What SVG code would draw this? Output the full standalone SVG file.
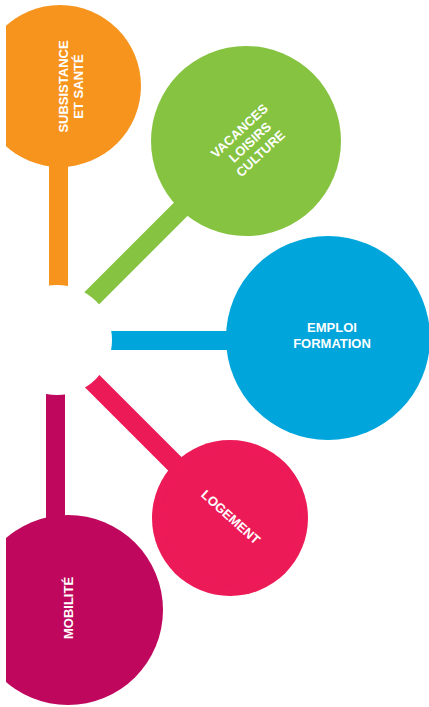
<svg xmlns="http://www.w3.org/2000/svg" width="429" height="707" viewBox="0 0 429 707">
<style>
.lbl{font-family:"Liberation Sans",Arial,sans-serif;font-weight:bold;font-size:13px;fill:#fff;text-anchor:middle}
.stem{fill:none;stroke-width:19;stroke-linecap:butt}
</style>
<defs>
<clipPath id="page"><rect x="6" y="0" width="423" height="707"/></clipPath>
<mask id="hub"><rect x="0" y="0" width="429" height="707" fill="#fff"/><circle cx="57" cy="340" r="55" fill="#000"/></mask>
</defs>
<rect width="429" height="707" fill="#fff"/>
<g clip-path="url(#page)">
<g id="connectors" mask="url(#hub)">
<line class="stem" stroke="#F7941E" x1="58.5" y1="150" x2="58.5" y2="340"/>
<line class="stem" stroke="#85C341" x1="57" y1="333" x2="247" y2="143"/>
<line class="stem" stroke="#00A5DB" x1="57" y1="340.5" x2="300" y2="340.5"/>
<line class="stem" stroke="#ED1A58" x1="57" y1="346" x2="230" y2="519"/>
<line class="stem" stroke="#BE075D" x1="55.5" y1="340" x2="55.5" y2="560"/>
</g>
<g id="subsistance">
<circle cx="60" cy="86" r="81" fill="#F7941E"/>
<text class="lbl" transform="translate(68,86.5) rotate(-90)"><tspan x="0" y="0">SUBSISTANCE</tspan><tspan x="0" y="15">ET SANTÉ</tspan></text>
</g>
<g id="vacances">
<circle cx="246" cy="141" r="95" fill="#85C341"/>
<text class="lbl" transform="translate(253,145.5) rotate(-43)"><tspan x="0" y="-15.5">VACANCES</tspan><tspan x="0" y="0">LOISIRS</tspan><tspan x="0" y="15.5">CULTURE</tspan></text>
</g>
<g id="emploi">
<circle cx="328" cy="338" r="102" fill="#00A5DB"/>
<text class="lbl" x="332" y="332">EMPLOI</text>
<text class="lbl" x="332" y="348">FORMATION</text>
</g>
<g id="logement">
<circle cx="230" cy="518" r="78" fill="#ED1A58"/>
<circle cx="231" cy="516" r="69" fill="#EC1B57" stroke="#E8195A" stroke-width="0.6" stroke-opacity="0.5"/>
<text class="lbl" transform="translate(227.7,520.5) rotate(42)">LOGEMENT</text>
</g>
<g id="mobilite">
<circle cx="68" cy="610" r="95" fill="#BE075D"/>
<text class="lbl" transform="translate(73.3,608) rotate(-90)">MOBILITÉ</text>
</g>
</g>
</svg>
